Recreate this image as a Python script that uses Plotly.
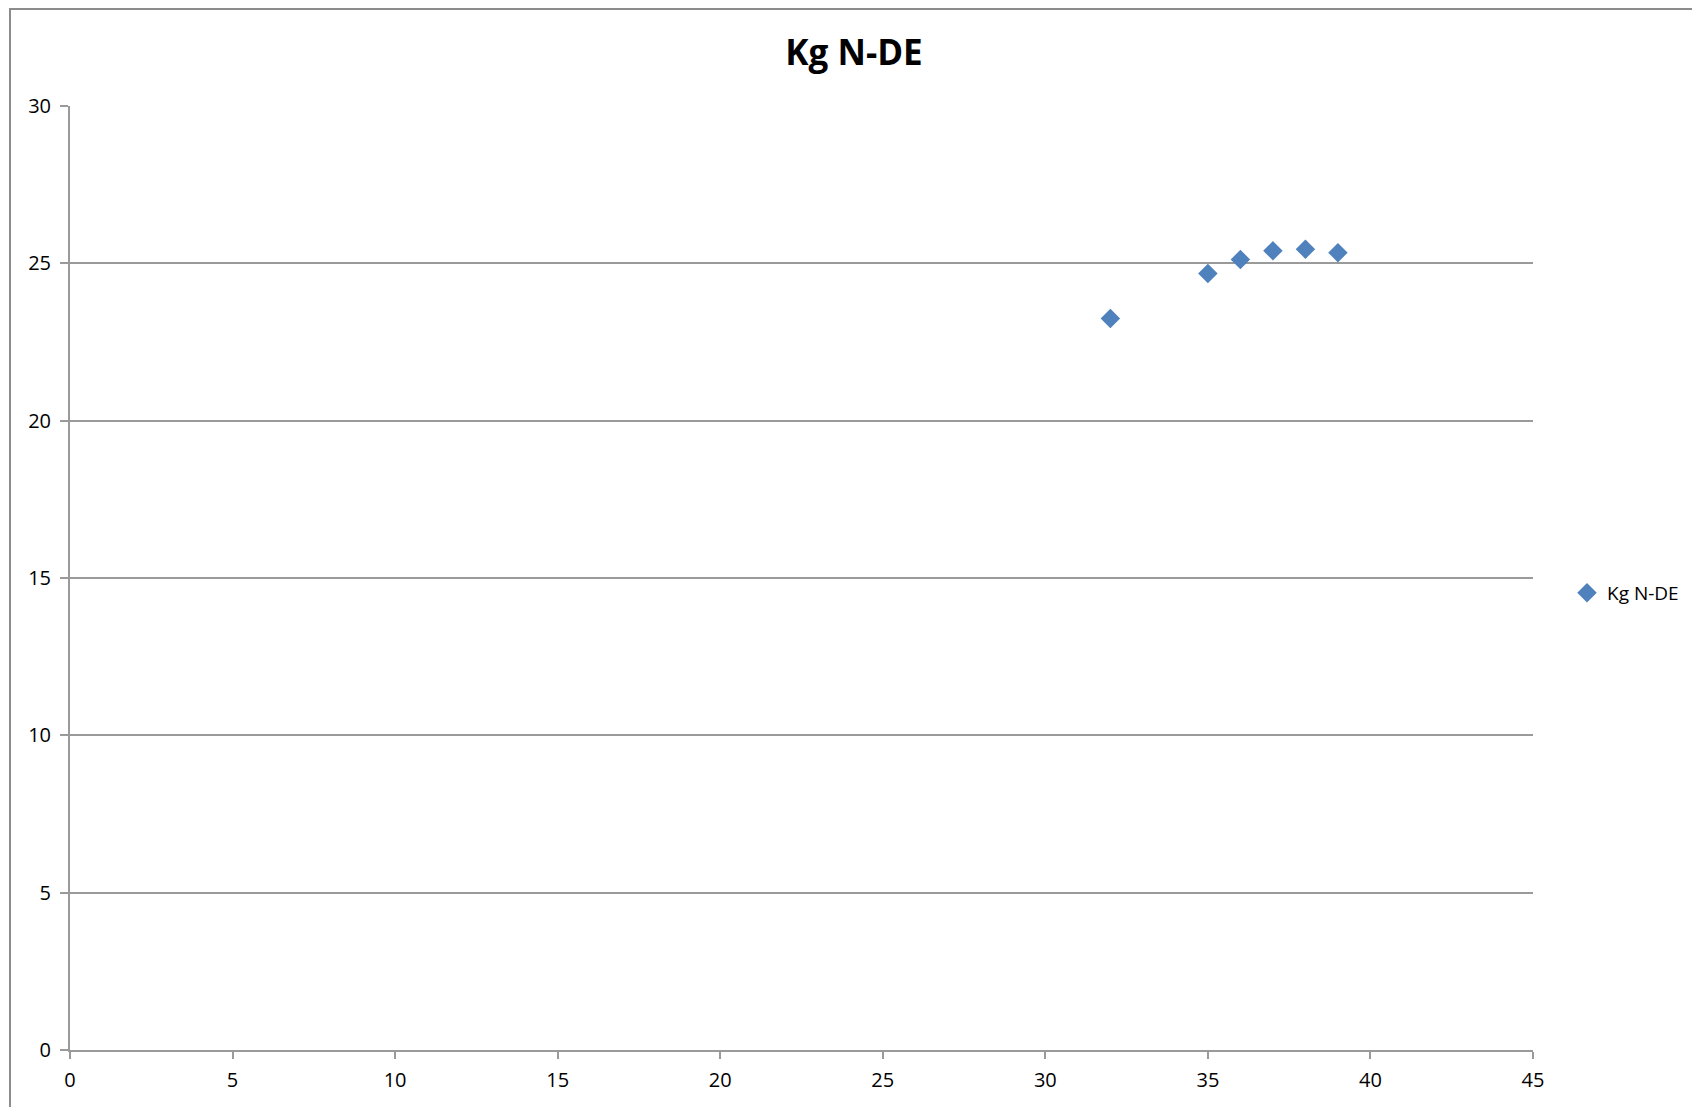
import plotly.graph_objects as go

series_name = "Kg N-DE"
x_values = [32, 35, 36, 37, 38, 39]
y_values = [23.25, 24.68, 25.12, 25.40, 25.45, 25.34]

x_ticks = [0, 5, 10, 15, 20, 25, 30, 35, 40, 45]
y_ticks = [0, 5, 10, 15, 20, 25, 30]

OFF = 8  # default body margin of the page
W, H = 1700 - OFF, 1107 - OFF
# plot area in page coordinates: left 70, right 1533, top 106, bottom 1050
L = 70 - OFF
T = 106 - OFF
R = W - (1533 - OFF)
B = H - (1050 - OFF)
pw, ph = W - L - R, H - T - B

def px(xp):
    return (xp - OFF - L) / pw

def py(yp):
    return (H - B - (yp - OFF)) / ph

fig = go.Figure()
fig.add_trace(go.Scatter(
    x=x_values, y=y_values, mode="markers", name=series_name,
    marker=dict(symbol="diamond", size=15, color="#4F81BD",
                line=dict(width=0)),
    showlegend=True,
))

grid_col = "#9a9a9a"
fig.update_layout(
    width=W, height=H,
    margin=dict(l=L, r=R, t=T, b=B, autoexpand=False),
    paper_bgcolor="white", plot_bgcolor="white",
    font=dict(family="Open Sans", size=20, color="#000000"),
    title=dict(text="<b>Kg N-DE</b>", xref="container", x=(854 - OFF) / W,
               xanchor="center", yref="container",
               y=1 - (53 - OFF) / H, yanchor="middle",
               font=dict(family="Open Sans", size=35, color="#000000")),
    showlegend=True,
    legend=dict(x=px(1567), y=py(593), xanchor="left", yanchor="middle",
                font=dict(family="Open Sans", size=19), bgcolor="rgba(0,0,0,0)",
                itemwidth=30, tracegroupgap=0),
    xaxis=dict(range=[0, 45], tickvals=x_ticks, ticktext=[str(v) for v in x_ticks],
               showgrid=False, zeroline=False, showline=True, linecolor=grid_col,
               linewidth=2, ticks="outside", ticklen=7, tickwidth=2, tickcolor=grid_col,
               ticklabelstandoff=4,
               tickfont=dict(family="Open Sans", size=20), fixedrange=True),
    yaxis=dict(range=[0, 30], tickvals=y_ticks, ticktext=[str(v) for v in y_ticks],
               showgrid=True, gridcolor=grid_col, gridwidth=2, zeroline=False,
               showline=True, linecolor=grid_col, linewidth=2, ticks="outside",
               ticklen=8, tickwidth=2, tickcolor=grid_col, ticklabelstandoff=5,
               tickfont=dict(family="Open Sans", size=20), fixedrange=True),
    shapes=[dict(type="rect", xref="paper", yref="paper",
                 x0=px(10), x1=px(1697), y0=py(1130), y1=py(9),
                 line=dict(color="#8c8c8c", width=2), fillcolor="rgba(0,0,0,0)",
                 layer="below")],
)

fig.write_html("out.html")
